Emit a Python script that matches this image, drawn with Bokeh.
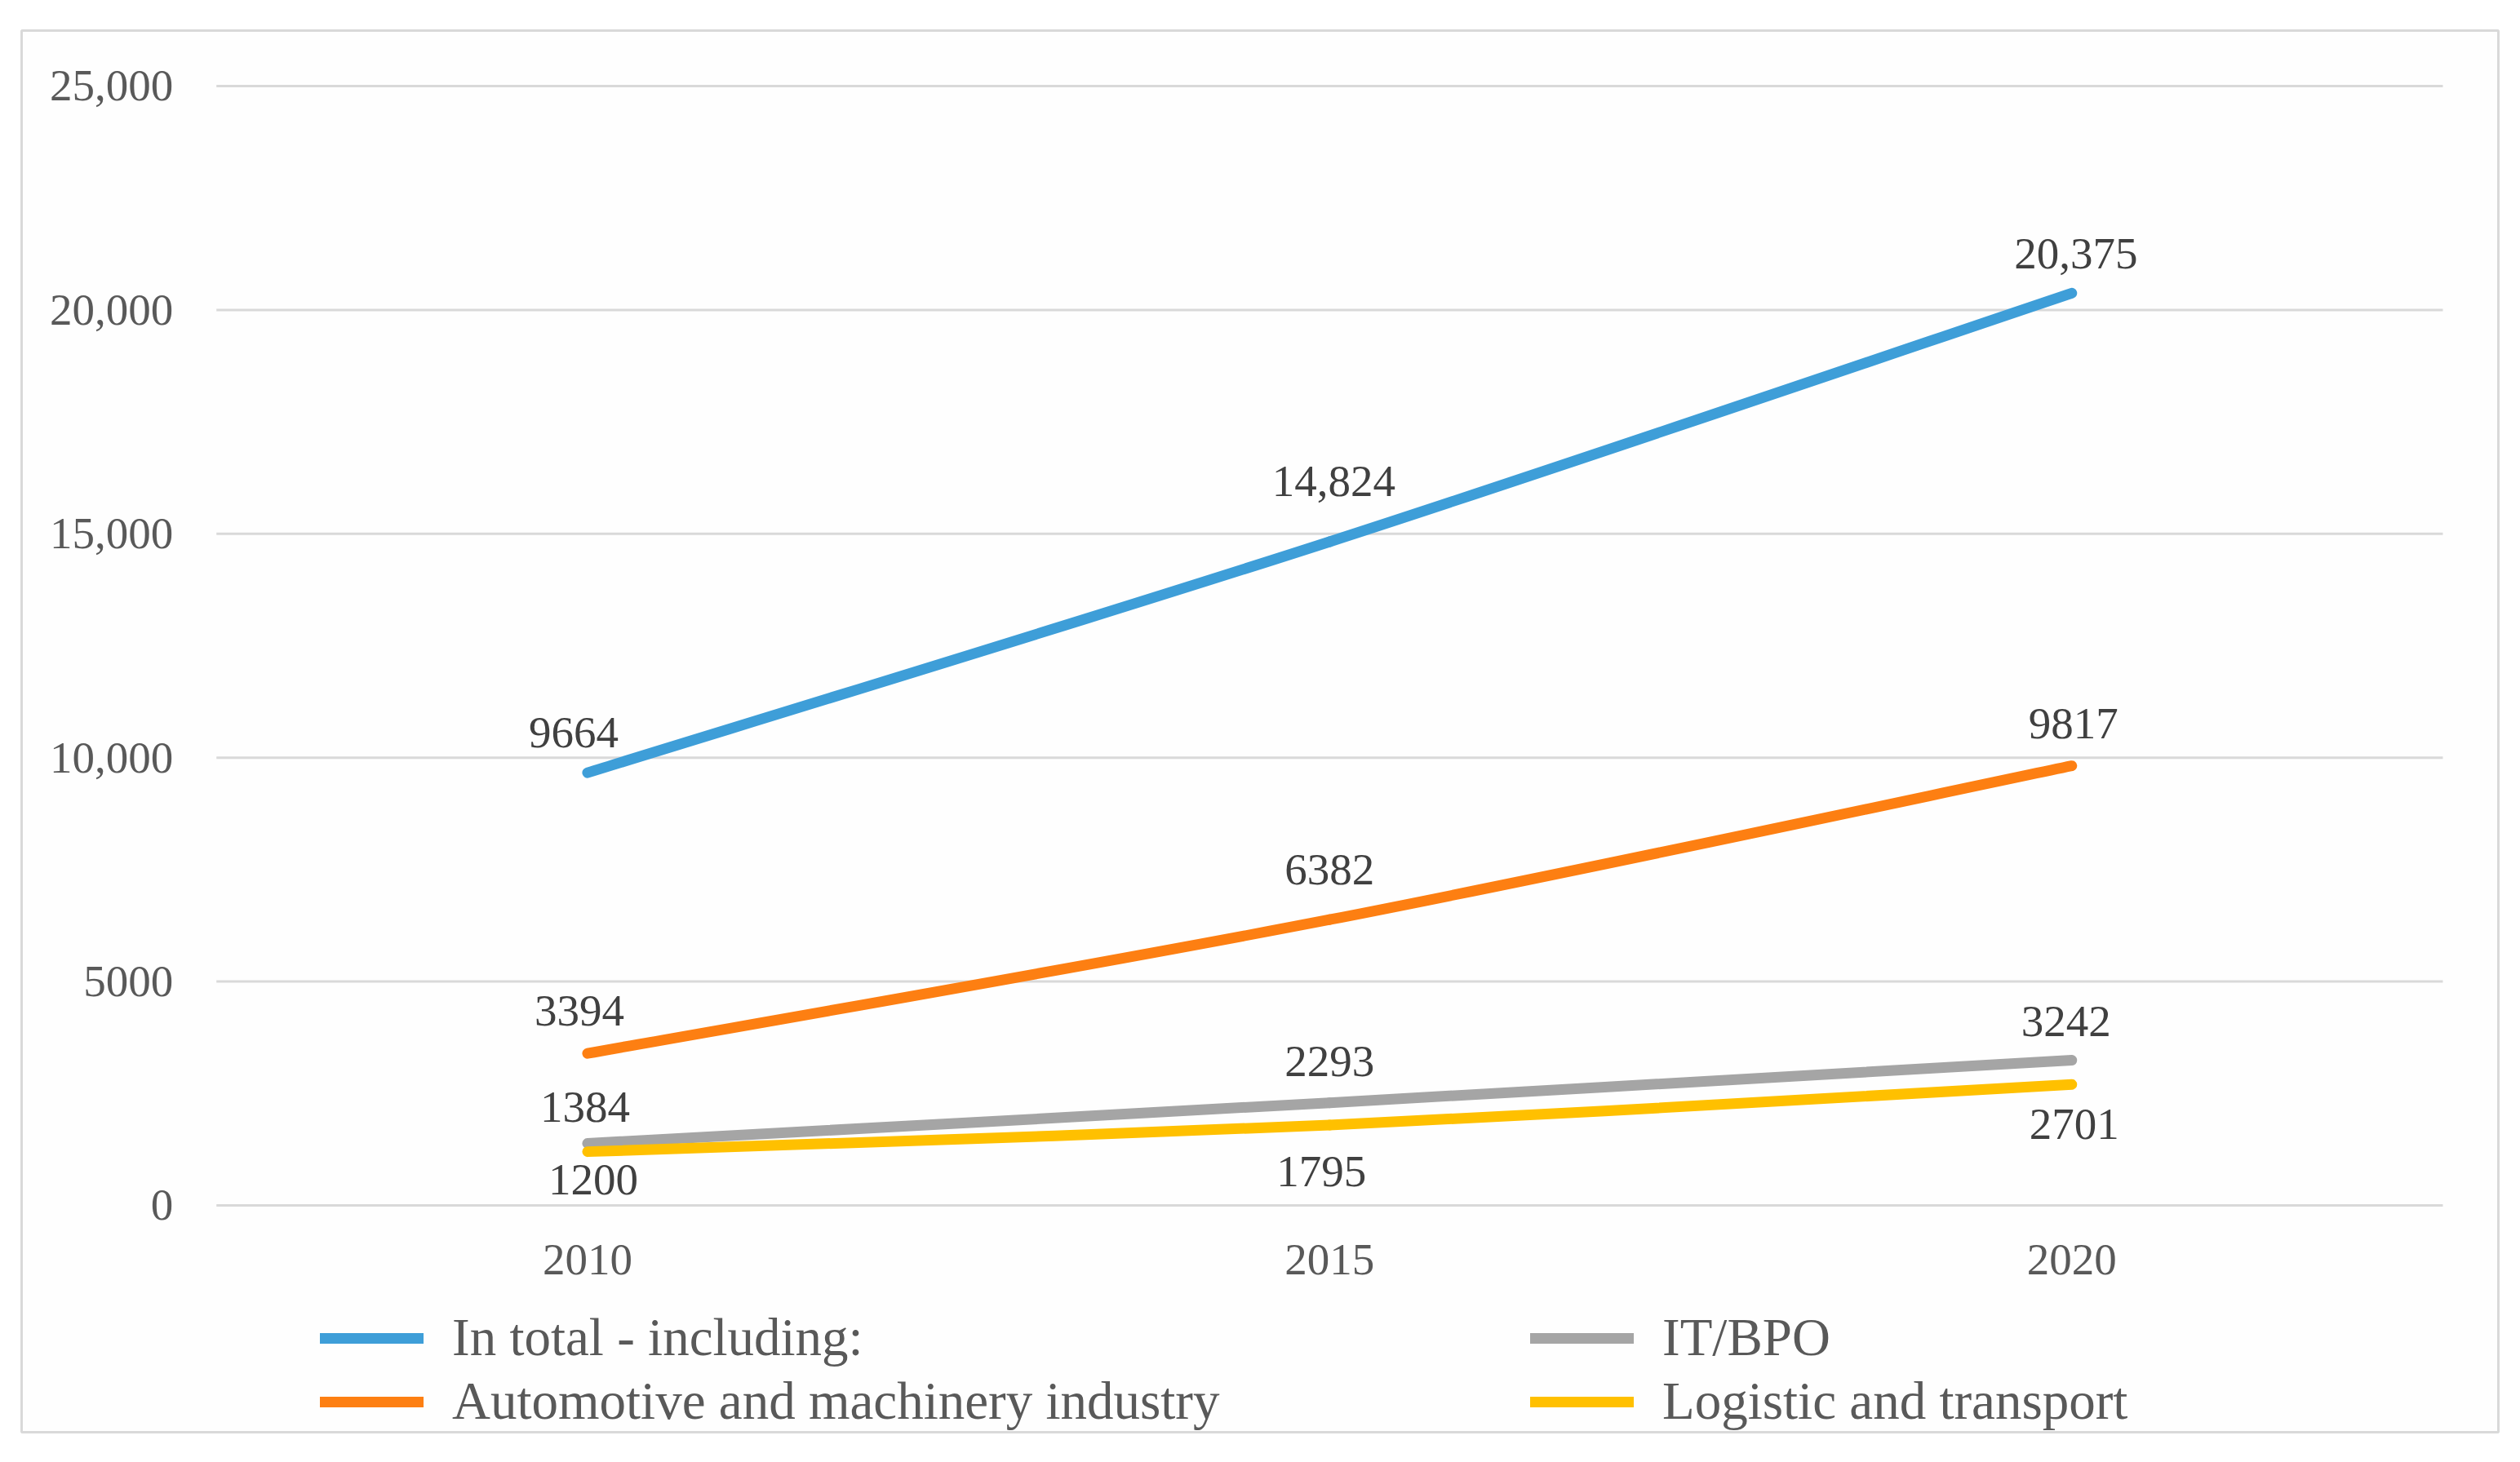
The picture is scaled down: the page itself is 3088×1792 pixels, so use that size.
from bokeh.plotting import figure
from bokeh.models import Range1d, FixedTicker, Legend, LegendItem, ColumnDataSource
from bokeh.embed import file_html
from bokeh.resources import INLINE

# ---- data ----
years = [2010, 2015, 2020]
series_names = ["In total - including:", "Automotive and machinery industry", "IT/BPO", "Logistic and transport"]
total = [9664, 14824, 20375]
automotive = [3394, 6382, 9817]
it_bpo = [1384, 2293, 3242]
logistic = [1200, 1795, 2701]
y_ticks = [0, 5000, 10000, 15000, 20000, 25000]
y_tick_labels = ["0", "5000", "10,000", "15,000", "20,000", "25,000"]

# ---- styles / layout ----
colors = ["#3E9ED8", "#FD7F12", "#A5A5A5", "#FFC000"]
label_dy = [[-49, -74, -48], [-52, -61, -52], [-45, -51, -48], [34, 57, 49]]
label_dx = [[-17, 5, 5], [-10, 0, 2], [-3, 0, -7], [7, -10, 3]]
FONT = "Liberation Serif"
X_LO, X_HI = 2007.5, 2022.5          # category band edges (grid extent)
X_VIEW = (2006.1875, 2022.874)        # frame = outer chart border
Y_VIEW = (-5066, 26239)

p = figure(width=3072, height=1776,
           x_range=Range1d(*X_VIEW), y_range=Range1d(*Y_VIEW),
           output_backend="svg", toolbar_location=None,
           min_border_left=26, min_border_right=11, min_border_top=37, min_border_bottom=21,
           background_fill_color="#FEFEFE", border_fill_color="#FFFFFF")
p.outline_line_color = "#D9D9D9"
p.outline_line_width = 3

p.xaxis.ticker = FixedTicker(ticks=years)
p.yaxis.ticker = FixedTicker(ticks=y_ticks)
p.yaxis.major_label_overrides = {t: l for t, l in zip(y_ticks, y_tick_labels)}
p.xaxis.fixed_location = 0
p.yaxis.fixed_location = X_LO
for ax in (p.xaxis[0], p.yaxis[0]):
    ax.axis_line_color = None
    ax.major_tick_line_color = None
    ax.minor_tick_line_color = None
    ax.major_label_text_font = FONT
    ax.major_label_text_font_size = "55px"
    ax.major_label_text_color = "#595959"
p.xaxis.major_label_standoff = 43
p.yaxis.major_label_standoff = 47
p.xgrid.grid_line_color = None
p.ygrid.grid_line_color = None

# horizontal gridlines at the y ticks, spanning the category bands
p.segment(x0=[X_LO] * len(y_ticks), x1=[X_HI] * len(y_ticks), y0=y_ticks, y1=y_ticks,
          line_color="#D9D9D9", line_width=3)


def bezier_segments(xs, ys):
    n = len(xs)
    out = dict(x0=[], y0=[], x1=[], y1=[], cx0=[], cy0=[], cx1=[], cy1=[])
    for i in range(n - 1):
        xm, ym = (xs[i - 1], ys[i - 1]) if i > 0 else (xs[i], ys[i])
        xp, yp = (xs[i + 2], ys[i + 2]) if i + 2 < n else (xs[i + 1], ys[i + 1])
        out["x0"].append(xs[i]); out["y0"].append(ys[i])
        out["x1"].append(xs[i + 1]); out["y1"].append(ys[i + 1])
        out["cx0"].append(xs[i] + (xs[i + 1] - xm) / 6)
        out["cy0"].append(ys[i] + (ys[i + 1] - ym) / 6)
        out["cx1"].append(xs[i + 1] - (xp - xs[i]) / 6)
        out["cy1"].append(ys[i + 1] - (yp - ys[i]) / 6)
    return out


def fmt(v):
    return f"{v:,}" if v >= 10000 else str(v)


all_series = [total, automotive, it_bpo, logistic]
renderers = []
for vals, col in zip(all_series, colors):
    src = ColumnDataSource(bezier_segments(years, vals))
    r = p.bezier(x0="x0", y0="y0", x1="x1", y1="y1", cx0="cx0", cy0="cy0", cx1="cx1", cy1="cy1",
                 source=src, line_color=col, line_width=13, line_cap="round")
    renderers.append(r)

for vals, dys, dxs in zip(all_series, label_dy, label_dx):
    src = ColumnDataSource(dict(x=years, y=vals, t=[fmt(v) for v in vals], dy=dys, dx=dxs))
    p.text(x="x", y="y", text="t", source=src, x_offset="dx", y_offset="dy",
           text_align="center", text_baseline="middle",
           text_font=FONT, text_font_size="55px", text_color="#404040")

items = [LegendItem(label=n, renderers=[r]) for n, r in zip(series_names, renderers)]
legend = Legend(items=items, location=(366, 0), orientation="vertical", nrows=2,
                glyph_width=127, glyph_height=20, label_standoff=35, label_width=1318,
                spacing=3, padding=0, margin=0, border_line_color=None,
                background_fill_alpha=0,
                label_text_font=FONT, label_text_font_size="65px", label_text_color="#595959")
p.add_layout(legend, "center")

open("out.html", "w").write(file_html(p, INLINE))
